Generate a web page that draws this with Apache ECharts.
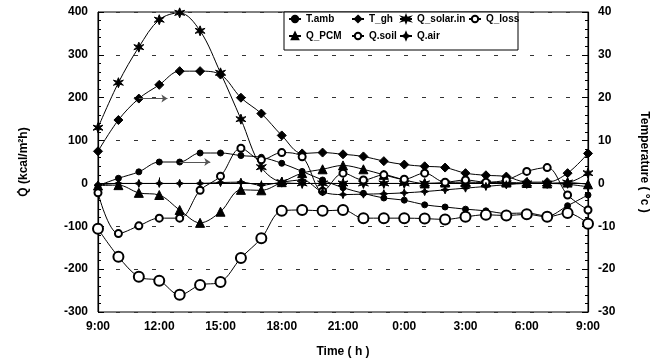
<!DOCTYPE html>
<html>
<head>
<meta charset="utf-8">
<script src="https://cdn.jsdelivr.net/npm/echarts@6/dist/echarts.min.js"></script>
<style>
  html, body { margin: 0; padding: 0; background: #fff; }
  #chart { width: 663px; height: 364px; }
</style>
</head>
<body>
<div id="chart"></div>
<script>
// hours since midnight of day 1 (9:00 .. 9:00 next day)
var hours = [9, 10, 11, 12, 13, 14, 15, 16, 17, 18, 19, 20, 21, 22, 23, 24, 25, 26, 27, 28, 29, 30, 31, 32, 33];

// temperatures (right axis, degC)
var tAmb = [-0.5, 1.2, 2.7, 5.0, 5.0, 7.1, 7.1, 6.5, 6.1, 4.7, 2.8, 0.8, -1.0, -2.3, -3.4, -3.9, -5.0, -5.5, -6.0, -6.4, -7.0, -6.9, -7.6, -5.2, -2.7];
var tGh = [7.5, 14.8, 19.8, 23.0, 26.2, 26.2, 25.4, 20.0, 16.3, 11.2, 7.0, 7.2, 6.8, 6.3, 5.2, 4.4, 4.0, 3.7, 2.4, 1.9, 1.6, 0.3, 0.3, 2.4, 7.0];

// heat flows (left axis, kcal/m2h)
var qSolarIn = [130, 235, 318, 382, 398, 356, 258, 150, 38, 3, 0, 0, 0, 0, 0, 0, 0, 0, 0, 0, 0, 0, 0, 2, 24];
var qLoss = [-106, -171, -218, -227, -260, -237, -230, -174, -128, -64, -62, -64, -62, -81, -81, -81, -82, -84, -78, -73, -75, -72, -78, -69, -94];
var qPCM = [-5, -4, -22, -27, -62, -92, -66, -15, -16, 3, 24, 33, 42, 33, 20, 8, 0, 2, 3, 2, 2, 1, 0, 2, -2];
var qSoil = [-22, -117, -99, -81, -81, -16, 17, 82, 55, 72, 62, -18, 24, 8, 20, 10, 24, 3, 8, 3, 8, 28, 37, -27, -62];
var qAir = [-4, 0, 0, 0, 0, 0, 2, 3, -4, 3, 8, -20, -26, -25, -24, -22, -19, -15, -11, -7, -3, 0, 0, -2, -8];

// arrows pointing to the temperature axis: [fromHour, toHour, degC]
var tGhArrow = [11, 12.4, 19.8];
var tAmbArrow = [13, 14.5, 5.0];

var font = 'Liberation Sans';
var starPath = 'path://M0,-10 L2.5,-3 L9,-5 L4,0 L9,5 L2.5,3 L0,10 L-2.5,3 L-9,5 L-4,0 L-9,-5 L-2.5,-3 Z';
var sparkPath = 'path://M0,-10 L3,-3 L10,0 L3,3 L0,10 L-3,3 L-10,0 L-3,-3 Z';

function pairs(vals) {
    return hours.map(function (h, i) { return [h, vals[i]]; });
}

function arrowLine(a) {
    return {
        silent: true,
        symbol: ['none', 'arrow'],
        symbolSize: 6,
        label: { show: false },
        lineStyle: { color: '#555', width: 1, type: 'solid' },
        data: [[{ coord: [a[0], a[2]] }, { coord: [a[1], a[2]] }]]
    };
}

function mkSeries(name, vals, symbol, size, axis, extra) {
    var s = {
        name: name,
        type: 'line',
        yAxisIndex: axis,
        data: pairs(vals),
        smooth: 0.35,
        symbol: symbol,
        symbolSize: size,
        showAllSymbol: true,
        lineStyle: { color: '#000', width: 1 },
        itemStyle: { color: '#000', borderColor: '#000', borderWidth: 1 }
    };
    if (extra) Object.keys(extra).forEach(function (k) { s[k] = extra[k]; });
    return s;
}

var legendBase = {
    orient: 'vertical',
    top: 12,
    padding: 2,
    itemGap: 7,
    itemWidth: 12,
    itemHeight: 8,
    textStyle: { fontFamily: font, fontWeight: 'bold', fontSize: 10, color: '#000' }
};
function legendCol(left, names) {
    var l = Object.assign({}, legendBase);
    l.left = left;
    l.data = names;
    return l;
}

var chart = echarts.init(document.getElementById('chart'));
var option = {
    animation: false,
    backgroundColor: '#fff',
    grid: { left: 98, right: 75, top: 12, bottom: 52, show: true, borderColor: '#000', borderWidth: 1 },
    graphic: [{
        type: 'rect', z: 3,
        shape: { x: 284, y: 12, width: 234, height: 38 },
        style: { fill: '#fff', stroke: '#000', lineWidth: 1 }
    }],
    legend: [
        legendCol(286, ['T.amb', 'Q_PCM']),
        legendCol(349, ['T_gh', 'Q.soil']),
        legendCol(397, ['Q_solar.in', 'Q.air']),
        legendCol(466, ['Q_loss'])
    ],
    xAxis: {
        type: 'value',
        min: 9, max: 33, interval: 3,
        name: 'Time ( h )',
        nameLocation: 'middle',
        nameGap: 34,
        nameTextStyle: { fontFamily: font, fontWeight: 'bold', fontSize: 12, color: '#000' },
        axisLine: { lineStyle: { color: '#000', width: 1.2 } },
        axisTick: { inside: true, length: 6, lineStyle: { color: '#000' } },
        minorTick: { show: true, splitNumber: 3, length: 3, lineStyle: { color: '#000' } },
        splitLine: { show: false },
        axisLabel: {
            fontFamily: font, fontWeight: 'bold', fontSize: 12, color: '#000', margin: 9,
            formatter: function (v) { return (v % 24) + ':00'; }
        }
    },
    yAxis: [{
        type: 'value',
        min: -300, max: 400, interval: 100,
        name: 'Q\u0307 (kcal/m\u00b2h)',
        nameLocation: 'middle',
        nameGap: 68,
        nameTextStyle: { fontFamily: font, fontWeight: 'bold', fontSize: 12, color: '#000' },
        axisLine: { show: true, lineStyle: { color: '#000', width: 1.2 } },
        axisTick: { inside: true, length: 6, lineStyle: { color: '#000' } },
        minorTick: { show: true, splitNumber: 5, length: 3, lineStyle: { color: '#000' } },
        splitLine: { show: true, lineStyle: { color: '#333', width: 1, type: [4, 14] } },
        axisLabel: { fontFamily: font, fontWeight: 'bold', fontSize: 12, color: '#000', margin: 10 }
    }, {
        type: 'value',
        min: -30, max: 40, interval: 10,
        position: 'right',
        name: 'Temperature ( \u00b0c )',
        nameLocation: 'middle',
        nameRotate: -90,
        nameGap: 50,
        nameTextStyle: { fontFamily: font, fontWeight: 'bold', fontSize: 12, color: '#000' },
        axisLine: { show: true, lineStyle: { color: '#000', width: 1.2 } },
        axisTick: { inside: true, length: 6, lineStyle: { color: '#000' } },
        minorTick: { show: true, splitNumber: 5, length: 3, lineStyle: { color: '#000' } },
        splitLine: { show: false },
        axisLabel: { fontFamily: font, fontWeight: 'bold', fontSize: 12, color: '#000', margin: 10 }
    }],
    series: [
        mkSeries('T.amb', tAmb, 'circle', 6, 1, { markLine: arrowLine(tAmbArrow) }),
        mkSeries('T_gh', tGh, 'diamond', 9, 1, { markLine: arrowLine(tGhArrow) }),
        mkSeries('Q_solar.in', qSolarIn, starPath, 10, 0),
        mkSeries('Q_loss', qLoss, 'emptyCircle', 10, 0),
        mkSeries('Q_PCM', qPCM, 'triangle', 9, 0),
        mkSeries('Q.soil', qSoil, 'emptyCircle', 7, 0),
        mkSeries('Q.air', qAir, sparkPath, 8, 0)
    ]
};
chart.setOption(option);
</script>
</body>
</html>
